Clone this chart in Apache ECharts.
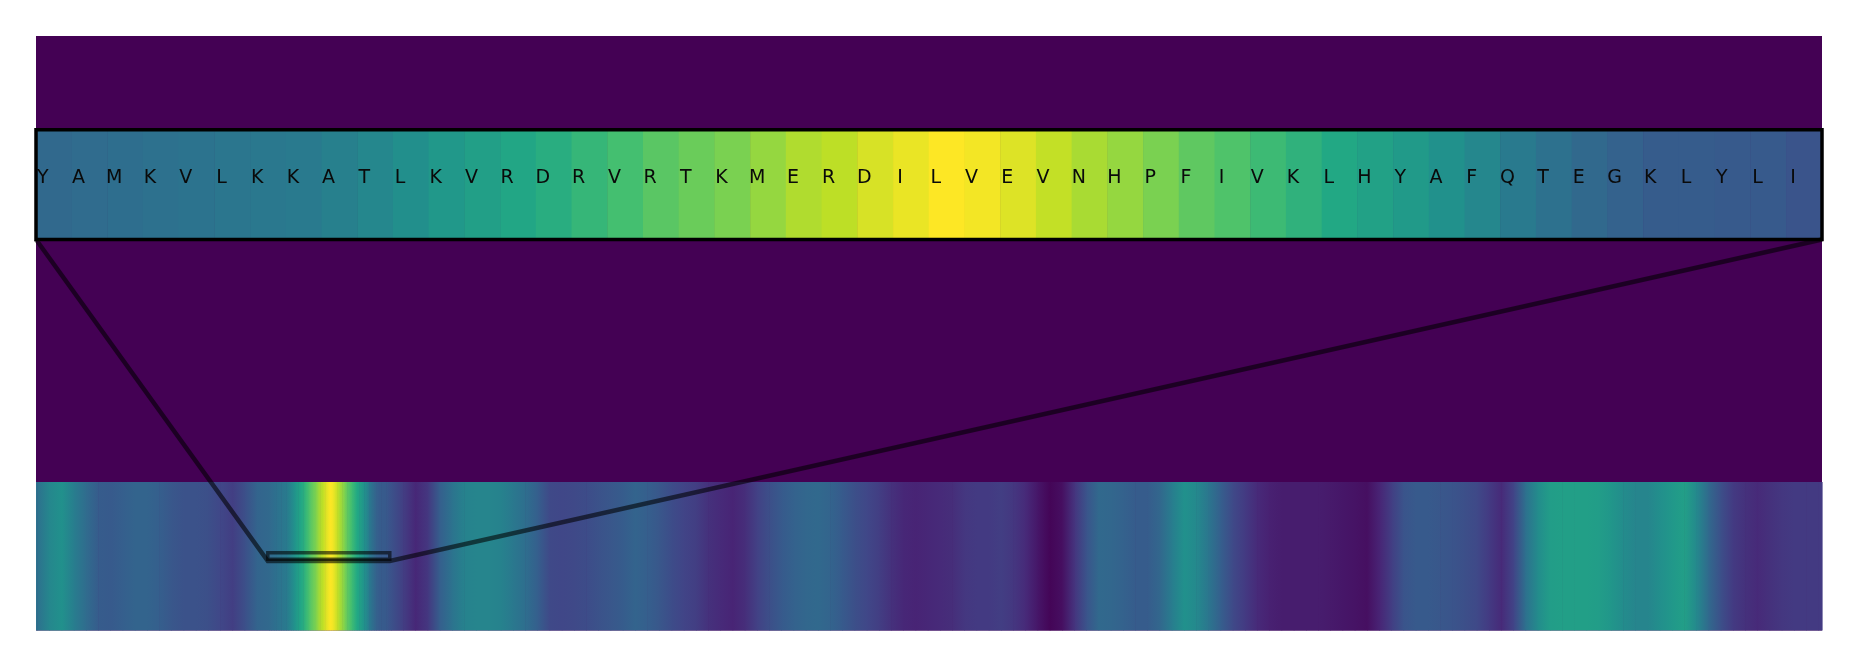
<!DOCTYPE html>
<html>
<head>
<meta charset="utf-8">
<script src="https://cdn.jsdelivr.net/npm/echarts@6/dist/echarts.min.js"></script>
<style>
html,body{margin:0;padding:0;background:#ffffff;}
#chart{width:1857px;height:667px;}
</style>
</head>
<body>
<div id="chart"></div>
<script>
// ---------- data ----------
// zoomed window: 50 residues shown in the top strip
const topLetters = ['Y','A','M','K','V','L','K','K','A','T',
                    'L','K','V','R','D','R','V','R','T','K',
                    'M','E','R','D','I','L','V','E','V','N',
                    'H','P','F','I','V','K','L','H','Y','A',
                    'F','Q','T','E','G','K','L','Y','L','I'];
const topValues = [0.34,0.35,0.36,0.37,0.38,0.39,0.40,0.41,0.43,0.46,
                   0.49,0.53,0.56,0.59,0.62,0.66,0.70,0.74,0.77,0.80,
                   0.84,0.88,0.90,0.94,0.97,1.00,0.985,0.95,0.91,0.87,
                   0.84,0.80,0.75,0.72,0.68,0.64,0.60,0.57,0.54,0.50,
                   0.46,0.41,0.37,0.34,0.31,0.29,0.29,0.28,0.28,0.26];
// full-length profile, read every 5 residues (residue 0, 5, 10, ... 730)
const bottomStep = 5;
const bottomValues = [
  0.37,0.46,0.50,0.42,0.35,0.29,0.28,0.30,0.32,0.32,
  0.30,0.27,0.25,0.25,0.24,0.21,0.18,0.24,0.32,0.34,
  0.38,0.48,0.66,0.84,1.00,0.84,0.64,0.46,0.29,0.25,
  0.18,0.11,0.16,0.30,0.38,0.44,0.45,0.45,0.44,0.40,
  0.36,0.30,0.22,0.21,0.22,0.23,0.25,0.27,0.29,0.32,
  0.30,0.27,0.23,0.20,0.18,0.14,0.12,0.10,0.13,0.19,
  0.24,0.28,0.31,0.33,0.34,0.32,0.28,0.24,0.21,0.18,
  0.14,0.11,0.10,0.11,0.12,0.13,0.16,0.17,0.17,0.18,
  0.16,0.12,0.06,0.01,0.04,0.15,0.26,0.34,0.33,0.31,
  0.29,0.29,0.33,0.42,0.50,0.47,0.39,0.30,0.22,0.17,
  0.12,0.09,0.08,0.08,0.08,0.08,0.07,0.06,0.05,0.04,
  0.10,0.18,0.26,0.28,0.28,0.27,0.26,0.24,0.22,0.17,
  0.12,0.20,0.37,0.48,0.55,0.56,0.56,0.56,0.55,0.52,
  0.48,0.45,0.45,0.49,0.53,0.56,0.47,0.34,0.24,0.17,
  0.14,0.12,0.14,0.16,0.17,0.17,0.17
];
const sequenceLength = 732;
const windowStart = 95;
const windowLength = topLetters.length;

// ---------- style ----------
const VIRIDIS = ['#440154','#482475','#414487','#355f8d','#2a788e','#21918c',
                 '#22a884','#44bf70','#7ad151','#bddf26','#fde725'];
function hexToRgb(h){return [parseInt(h.slice(1,3),16),parseInt(h.slice(3,5),16),parseInt(h.slice(5,7),16)];}
const VIR_RGB = VIRIDIS.map(hexToRgb);
function viridis(v){
  v = Math.max(0, Math.min(1, v));
  const n = VIR_RGB.length - 1;
  const t = v * n;
  const i = Math.min(Math.floor(t), n - 1);
  const f = t - i;
  const a = VIR_RGB[i], b = VIR_RGB[i + 1];
  return 'rgb(' + [0,1,2].map(k => Math.round(a[k] + (b[k] - a[k]) * f)).join(',') + ')';
}

const PLOT_LEFT = 36, PLOT_WIDTH = 1786;
const BG_TOP = 36, BG_HEIGHT = 594.5;
const STRIP_TOP = 129.7, STRIP_HEIGHT = 109.8;
const TRACK_TOP = 482, TRACK_HEIGHT = 148.5;
const BOX_Y_TOP = 0.524, BOX_Y_BOTTOM = 0.480, LINK_Y = 0.468;
const LINK_COLOR = 'rgba(0,0,0,0.58)';

// ---------- build profile segments (window residues taken from the top strip) ----------
const profile = [];
bottomValues.forEach((v, k) => {
  const r = k * bottomStep;
  if (r >= windowStart && r < windowStart + windowLength) return;
  profile.push([r + 0.5, v]);
});
topValues.forEach((v, i) => profile.push([windowStart + i + 0.5, v]));
profile.sort((a, b) => a[0] - b[0]);
const segments = [];
segments.push([0, profile[0][0], profile[0][1], profile[0][1]]);
for (let k = 0; k < profile.length - 1; k++) {
  segments.push([profile[k][0], profile[k + 1][0], profile[k][1], profile[k + 1][1]]);
}
const lastP = profile[profile.length - 1];
segments.push([lastP[0], sequenceLength, lastP[1], lastP[1]]);

const chart = echarts.init(document.getElementById('chart'), null, {renderer: 'canvas'});

const option = {
  animation: false,
  backgroundColor: '#ffffff',
  grid: [
    {left: PLOT_LEFT, top: BG_TOP, width: PLOT_WIDTH, height: BG_HEIGHT, show: true,
     backgroundColor: '#440154', borderWidth: 0, containLabel: false},
    {left: PLOT_LEFT, top: STRIP_TOP, width: PLOT_WIDTH, height: STRIP_HEIGHT, show: false},
    {left: PLOT_LEFT, top: TRACK_TOP, width: PLOT_WIDTH, height: TRACK_HEIGHT, show: false}
  ],
  xAxis: [
    {gridIndex: 0, type: 'value', min: 0, max: 1, show: false},
    {gridIndex: 1, type: 'category', data: topLetters.map((_, i) => i), show: false},
    {gridIndex: 2, type: 'value', min: 0, max: sequenceLength, show: false}
  ],
  yAxis: [
    {gridIndex: 0, type: 'value', min: 0, max: 1, show: false},
    {gridIndex: 1, type: 'category', data: [0], show: false},
    {gridIndex: 2, type: 'value', min: 0, max: 1, show: false}
  ],
  visualMap: [{
    type: 'continuous', show: false, min: 0, max: 1, seriesIndex: 0, dimension: 2,
    inRange: {color: VIRIDIS}
  }],
  series: [
    {
      type: 'heatmap', xAxisIndex: 1, yAxisIndex: 1,
      data: topValues.map((v, i) => [i, 0, v]),
      itemStyle: {borderWidth: 0},
      emphasis: {disabled: true},
      label: {
        show: true,
        formatter: p => topLetters[p.data[0]],
        offset: [-11, -6.5],
        color: '#0a0a0a',
        fontSize: 19,
        fontFamily: 'DejaVu Sans'
      }
    },
    {
      type: 'custom', xAxisIndex: 2, yAxisIndex: 2,
      data: segments,
      silent: true,
      renderItem: function (params, api) {
        const x0 = api.coord([api.value(0), 0])[0];
        const x1 = api.coord([api.value(1), 0])[0];
        const yT = api.coord([0, 1])[1];
        const yB = api.coord([0, 0])[1];
        const c0 = viridis(api.value(2)), c1 = viridis(api.value(3));
        return {
          type: 'rect',
          shape: {x: x0, y: yT, width: (x1 - x0) + 0.6, height: yB - yT},
          style: {fill: new echarts.graphic.LinearGradient(0, 0, 1, 0, [
            {offset: 0, color: c0}, {offset: 1, color: c1}])}
        };
      }
    }
  ]
};
chart.setOption(option);

// ---------- overlay: strip frame, zoom box and connecting lines ----------
const bx0 = chart.convertToPixel({xAxisIndex: 2}, windowStart);
const bx1 = chart.convertToPixel({xAxisIndex: 2}, windowStart + windowLength);
const byT = chart.convertToPixel({yAxisIndex: 2}, BOX_Y_TOP);
const byB = chart.convertToPixel({yAxisIndex: 2}, BOX_Y_BOTTOM);
const byL = chart.convertToPixel({yAxisIndex: 2}, LINK_Y);
const sL = PLOT_LEFT, sR = PLOT_LEFT + PLOT_WIDTH, sB = STRIP_TOP + STRIP_HEIGHT;

chart.setOption({
  graphic: [
    {type: 'rect', z: 50, silent: true,
     shape: {x: sL, y: STRIP_TOP, width: PLOT_WIDTH, height: STRIP_HEIGHT},
     style: {fill: 'none', stroke: '#000000', lineWidth: 3.5}},
    {type: 'rect', z: 60, silent: true,
     shape: {x: bx0, y: byT, width: bx1 - bx0, height: byB - byT},
     style: {fill: 'none', stroke: LINK_COLOR, lineWidth: 3.5}},
    {type: 'polyline', z: 60, silent: true,
     shape: {points: [[sL, sB], [bx0, byL], [bx1, byL], [sR, sB]]},
     style: {fill: 'none', stroke: LINK_COLOR, lineWidth: 4.5, lineJoin: 'miter'}}
  ]
});
</script>
</body>
</html>
